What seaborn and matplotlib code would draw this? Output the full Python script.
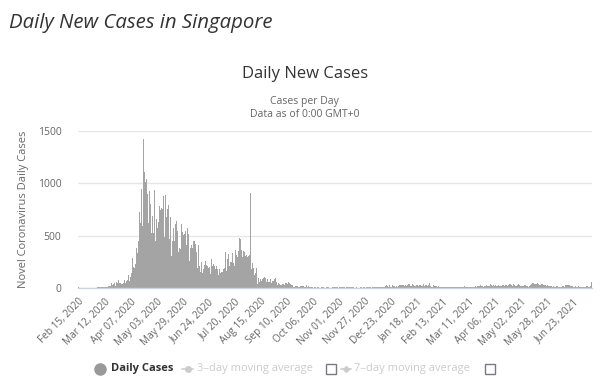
import numpy as np
import pandas as pd
import matplotlib
matplotlib.use('Agg')
import matplotlib.pyplot as plt
from matplotlib.lines import Line2D
from matplotlib.patches import Rectangle
import seaborn as sns

########## daily new cases, Singapore, Feb 15 2020 -> Jul 12 2021 ##########
feb20 = [5,3,2,4,3,1,1,3,1,1,1,3,3,3,0]
mar20 = [4,2,2,2,7,13,8,12,12,10,12,12,9,12,14,17,23,23,47,32,40,47,23,54,49,73,52,49,42,35,47]
apr20 = [74,49,65,75,120,66,106,142,287,198,191,233,386,334,447,728,623,942,596,1426,
         1111,1016,1037,897,618,931,799,528,690,528]
may20 = [932,447,657,573,632,788,741,768,753,876,486,884,675,752,793,465,682,305,451,570,
         448,614,642,548,344,383,373,611,533,506,518]
jun20 = [544,408,569,517,261,383,407,386,451,452,422,347,191,407,214,151,247,142,177,218,
         262,218,213,191,203,133,280,213,232,215]
jul20 = [186,215,183,126,179,141,149,156,183,191,347,162,279,322,211,245,248,331,237,212,
         359,319,298,354,481,469,359,296,356,344,307]
aug20 = [313,295,307,313,908,179,242,194,123,148,188,42,93,56,87,67,86,93,106,99,
         62,87,61,60,88,48,65,64,83,98,58]
sep20 = [32,49,41,33,30,37,38,31,44,52,37,54,47,39,27,27,11,13,18,18,15,11,12,21,15,16,15,13,11,27]
oct20 = [10,16,13,8,10,7,4,7,5,4,9,6,4,3,6,10,5,3,4,13,9,6,2,3,4,8,8,9,5,6,9]
nov20 = [3,7,9,9,7,5,5,3,6,10,8,6,5,10,6,8,3,2,8,4,3,3,5,5,4,5,6,4,9,7]
dec20 = [7,6,10,4,11,5,9,11,10,8,10,7,9,14,8,12,12,18,25,21,12,25,9,14,28,19,22,10,18,8,15]
jan21 = [25,27,33,27,26,22,33,19,26,40,34,22,22,39,27,20,23,27,31,17,31,30,15,24,39,18,28,25,22,25,44]
feb21 = [18,11,10,25,21,21,15,8,17,12,10,8,13,10,11,9,11,12,8,9,10,12,11,13,10,11,10,7]
mar21 = [14,13,12,9,10,12,15,8,11,13,13,10,11,12,13,14,9,18,14,22,22,19,28,19,18,13,23,23,27,17,16]
apr21 = [22,35,28,24,30,23,25,24,22,32,24,22,24,30,30,20,33,31,20,29,35,35,30,23,38,32,21,17,33,34]
may21 = [25,16,17,17,19,26,25,24,16,14,18,26,34,52,49,38,41,38,47,38,31,28,36,41,29,31,26,24,33,18,20]
jun21 = [18,16,11,15,13,14,18,24,8,9,11,13,18,23,14,26,30,27,26,25,17,17,21,11,13,22,14,9,16,10]
jul21 = [13,12,14,6,7,11,21,19,14,10,23,56]

cases = (feb20 + mar20 + apr20 + may20 + jun20 + jul20 + aug20 + sep20 + oct20 + nov20 + dec20
         + jan21 + feb21 + mar21 + apr21 + may21 + jun21 + jul21)

tick_labels = ['Feb 15, 2020','Mar 12, 2020','Apr 07, 2020','May 03, 2020','May 29, 2020',
               'Jun 24, 2020','Jul 20, 2020','Aug 15, 2020','Sep 10, 2020','Oct 06, 2020',
               'Nov 01, 2020','Nov 27, 2020','Dec 23, 2020','Jan 18, 2021','Feb 13, 2021',
               'Mar 11, 2021','Apr 06, 2021','May 02, 2021','May 28, 2021','Jun 23, 2021']
tick_step = 26

df = pd.DataFrame({'day': np.arange(len(cases)), 'cases': cases})

sns.set_style('white')
plt.rcParams['font.family'] = ['Open Sans', 'DejaVu Sans']

fig = plt.figure(figsize=(6, 3.88), dpi=100)
ax = fig.add_axes([0.13, 0.2577, 0.857, 0.4047])

sns.barplot(data=df, x='day', y='cases', color='#a4a4a4', saturation=1, width=0.55,
            edgecolor='none', linewidth=0, ax=ax)

ax.set_ylim(0, 1500)
ax.set_yticks([0, 500, 1000, 1500])
ax.set_yticklabels(['0', '500', '1000', '1500'], color='#666666', fontsize=7.5)
ax.set_xlim(-0.5, len(cases) - 0.5)
ax.set_xticks(np.arange(0, len(cases), tick_step)[:len(tick_labels)])
ax.set_xticklabels(tick_labels, rotation=45, ha='right', rotation_mode='anchor',
                   color='#666666', fontsize=7.2)
ax.tick_params(axis='x', length=0, pad=6)
ax.tick_params(axis='y', length=0, pad=12)
ax.yaxis.grid(True, color='#e6e6e6', linewidth=1)
ax.set_axisbelow(True)
for s in ['top', 'right', 'left']:
    ax.spines[s].set_visible(False)
ax.spines['bottom'].set_color('#ccd6eb')
ax.spines['bottom'].set_linewidth(1)
ax.set_xlabel('')
ax.set_ylabel('Novel Coronavirus Daily Cases', color='#666666', fontsize=8, labelpad=6)

# titles
fig.text(0.015, 0.942, 'Daily New Cases in Singapore', fontsize=14.7, style='italic',
         color='#333333', ha='left', va='center')
fig.text(0.508, 0.808, 'Daily New Cases', fontsize=12, color='#333333', ha='center', va='center')
fig.text(0.508, 0.738, 'Cases per Day', fontsize=7.5, color='#666666', ha='center', va='center')
fig.text(0.508, 0.706, 'Data as of 0:00 GMT+0', fontsize=7.5, color='#666666', ha='center', va='center')

# legend
ly = 0.049
fig.add_artist(Line2D([0.166], [ly], marker='o', markersize=8, color='#999999',
                      transform=fig.transFigure))
fig.text(0.185, ly, 'Daily Cases', fontsize=8, fontweight='bold', color='#333333', va='center')
fig.add_artist(Line2D([0.303, 0.322], [ly, ly], color='#cccccc', linewidth=1.2,
                      transform=fig.transFigure))
fig.add_artist(Line2D([0.3125], [ly], marker='o', markersize=4, color='#cccccc',
                      transform=fig.transFigure))
fig.text(0.329, ly, '3\u2013day moving average', fontsize=8, color='#cccccc', va='center')
fig.add_artist(Rectangle((0.543, ly - 0.014), 0.017, 0.027, fill=False, edgecolor='#777788',
                         linewidth=1, transform=fig.transFigure))
fig.add_artist(Line2D([0.569, 0.585], [ly, ly], color='#cccccc', linewidth=1.2,
                      transform=fig.transFigure))
fig.add_artist(Line2D([0.577], [ly], marker='D', markersize=3, color='#cccccc',
                      transform=fig.transFigure))
fig.text(0.590, ly, '7\u2013day moving average', fontsize=8, color='#cccccc', va='center')
fig.add_artist(Rectangle((0.808, ly - 0.014), 0.017, 0.027, fill=False, edgecolor='#777788',
                         linewidth=1, transform=fig.transFigure))

fig.savefig('out.png', dpi=100)
